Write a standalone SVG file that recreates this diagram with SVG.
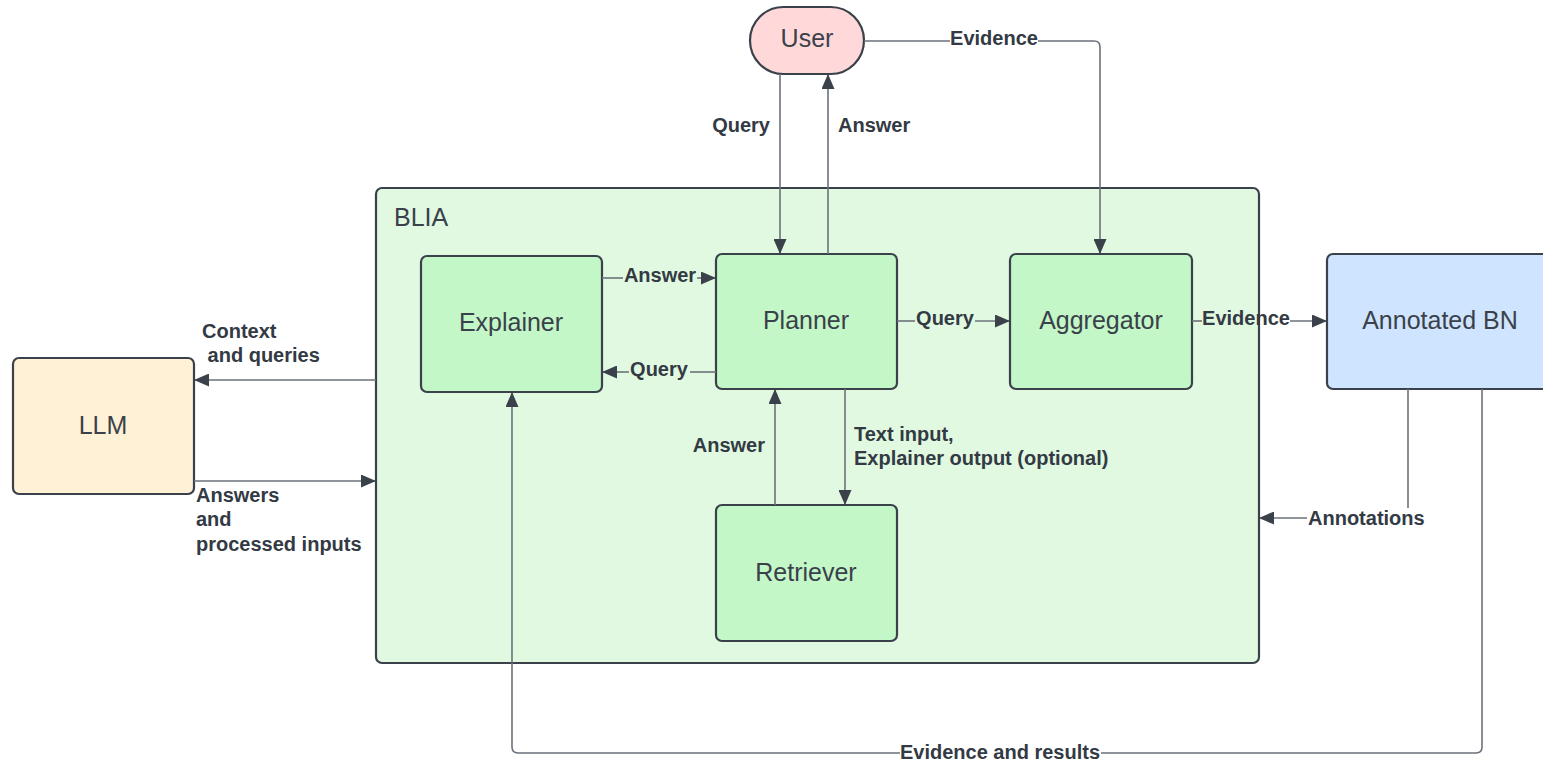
<svg xmlns="http://www.w3.org/2000/svg" width="1543" height="762" viewBox="0 0 1543 762">
<defs>
<marker id="ah" markerWidth="15" markerHeight="13" refX="14" refY="6.5" orient="auto" markerUnits="userSpaceOnUse">
<path d="M0,0 L15,6.5 L0,13 Z" fill="#3a414a"/>
</marker>
<style>
.node{stroke:#3a414a;stroke-width:2.2}
.nt{font-family:"Liberation Sans",Arial,sans-serif;font-size:25px;fill:#3a414a;text-anchor:middle}
.lb{font-family:"Liberation Sans",Arial,sans-serif;font-size:20px;font-weight:bold;fill:#333a44}
.c{fill:none;stroke:#6b727b;stroke-width:1.6}
.a{marker-end:url(#ah)}
</style>
</defs>
<rect width="1543" height="762" fill="#ffffff"/>

<g id="blia">
<rect class="node" x="376" y="188" width="883" height="475" rx="6" fill="#e1f9e1"/>
<text class="nt" x="394" y="226" style="text-anchor:start">BLIA</text>
</g>
<g id="user">
<rect class="node" x="750" y="7" width="114" height="67" rx="33.5" fill="#ffd9d9"/>
<text class="nt" x="807" y="47">User</text>
</g>
<g id="explainer">
<rect class="node" x="421" y="256" width="181" height="136" rx="6" fill="#c3f7c8"/>
<text class="nt" x="511" y="331">Explainer</text>
</g>
<g id="planner">
<rect class="node" x="716" y="254" width="181" height="135" rx="6" fill="#c3f7c8"/>
<text class="nt" x="806" y="329">Planner</text>
</g>
<g id="aggregator">
<rect class="node" x="1010" y="254" width="182" height="135" rx="6" fill="#c3f7c8"/>
<text class="nt" x="1101" y="329">Aggregator</text>
</g>
<g id="retriever">
<rect class="node" x="716" y="505" width="181" height="136" rx="6" fill="#c3f7c8"/>
<text class="nt" x="806" y="581">Retriever</text>
</g>
<g id="annotated-bn">
<rect class="node" x="1327" y="254" width="240" height="135" rx="6" fill="#cfe4ff"/>
<text class="nt" x="1440" y="329">Annotated BN</text>
</g>
<g id="llm">
<rect class="node" x="13" y="358" width="181" height="136" rx="6" fill="#fff1d6"/>
<text class="nt" x="103" y="434">LLM</text>
</g>

<g id="connectors">
<!-- User -> Aggregator Evidence -->
<path class="c" d="M864,41 H950"/>
<path class="c a" d="M1038,41 H1094 Q1100,41 1100,47 V253"/>
<text class="lb" x="994" y="45" text-anchor="middle">Evidence</text>
<!-- User -> Planner Query -->
<path class="c a" d="M780,74 V253"/>
<text class="lb" x="770" y="131.5" text-anchor="end">Query</text>
<!-- Planner -> User Answer -->
<path class="c a" d="M828,254 V75"/>
<text class="lb" x="838" y="131.5">Answer</text>
<!-- Explainer -> Planner Answer -->
<path class="c" d="M602,278 H623"/>
<path class="c a" d="M697,278 H715"/>
<text class="lb" x="660" y="282" text-anchor="middle">Answer</text>
<!-- Planner -> Explainer Query -->
<path class="c" d="M716,372 H690"/>
<path class="c a" d="M629,372 H603"/>
<text class="lb" x="659" y="376" text-anchor="middle">Query</text>
<!-- Planner -> Aggregator Query -->
<path class="c" d="M897,321 H915"/>
<path class="c a" d="M975,321 H1009"/>
<text class="lb" x="945" y="325" text-anchor="middle">Query</text>
<!-- Aggregator -> Annotated BN Evidence -->
<path class="c" d="M1192,321 H1202"/>
<path class="c a" d="M1290,321 H1326"/>
<text class="lb" x="1246" y="325" text-anchor="middle">Evidence</text>
<!-- Retriever -> Planner Answer -->
<path class="c a" d="M775,505 V390"/>
<text class="lb" x="765" y="452" text-anchor="end">Answer</text>
<!-- Planner -> Retriever -->
<path class="c a" d="M845,389 V504"/>
<text class="lb" x="854" y="441">Text input,</text>
<text class="lb" x="854" y="465">Explainer output (optional)</text>
<!-- BLIA -> LLM -->
<path class="c a" d="M376,380 H195"/>
<text class="lb" x="202" y="338">Context</text>
<text class="lb" x="202" y="362" xml:space="preserve"> and queries</text>
<!-- LLM -> BLIA -->
<path class="c a" d="M194,481 H375"/>
<text class="lb" x="196" y="502">Answers</text>
<text class="lb" x="196" y="526">and</text>
<text class="lb" x="196" y="551">processed inputs</text>
<!-- Annotated BN -> BLIA Annotations -->
<path class="c" d="M1408,389 V508"/>
<path class="c a" d="M1307,518 H1260"/>
<text class="lb" x="1308" y="524.5">Annotations</text>
<!-- Annotated BN -> Explainer Evidence and results -->
<path class="c" d="M1482,389 V747 Q1482,753 1476,753 H1101"/>
<path class="c a" d="M900,753 H518 Q512,753 512,747 V393"/>
<text class="lb" x="1000" y="759" text-anchor="middle">Evidence and results</text>
</g>
</svg>
